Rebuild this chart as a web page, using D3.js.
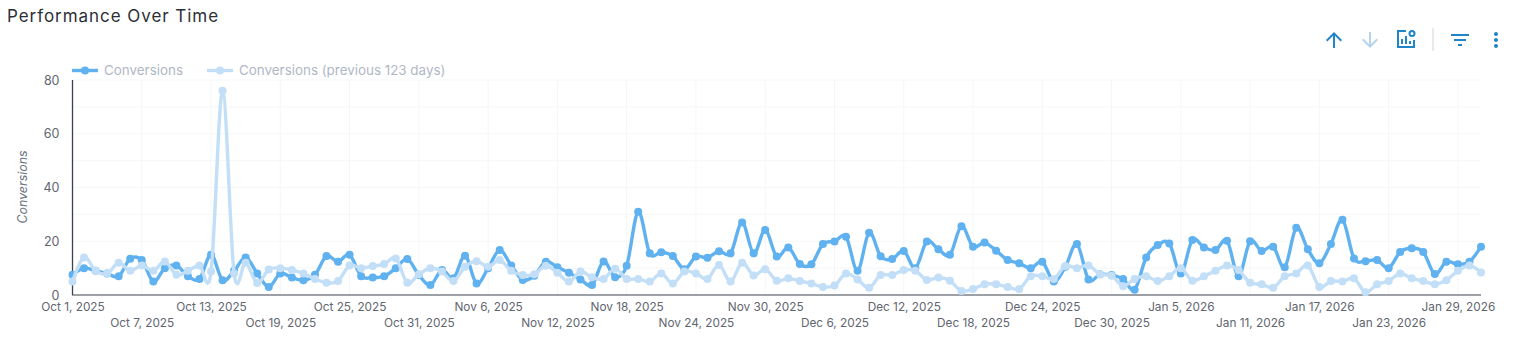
<!DOCTYPE html>
<html>
<head>
<meta charset="utf-8">
<script src="https://cdn.jsdelivr.net/npm/d3@7"></script>
<style>
  body { margin: 0; background: #fff; }
  svg { display: block; font-family: Inter, "Open Sans", sans-serif; }
  .domain { display: none; }
  .tick line { display: none; }
</style>
</head>
<body>
<div id="main"></div>
<script>
var conversions = [
  7.5, 10, 9, 8, 7, 13.5, 13, 5, 10, 11, 7, 6, 15, 5.5, 9, 14, 8, 3, 8, 6.5,
  5.5, 7.5, 14.5, 12.4, 15, 7, 6.5, 7, 10, 13.4, 7.4, 3.7, 9.3, 6.2, 14.6, 4.3, 10, 16.7, 11, 5.6,
  7.2, 12.4, 10.3, 8.3, 5.8, 3.7, 12.5, 6.6, 10.9, 31, 15.5, 15.9, 14.5, 9.6, 14.3, 13.9, 16.3, 15.5, 27, 15.5,
  24.2, 14.3, 17.7, 11.5, 11.4, 19, 19.9, 21.7, 9, 23.2, 14.4, 13.4, 16.4, 10, 19.9, 17, 15, 25.6, 18, 19.5,
  16.5, 13, 11.8, 10, 12.4, 5, 10.5, 19, 5.8, 7.7, 7.4, 6, 2, 14, 18.6, 19.2, 8, 20.5, 17.7, 16.7,
  20.2, 7, 20, 16.4, 18, 10.3, 25, 17, 11.8, 19, 28, 13.6, 12.6, 13, 10, 16, 17.4, 16, 7.8, 12.4,
  11.4, 12.4, 18
];
var previous = [
  5, 14, 9, 8, 12, 9, 11, 9, 12.5, 7.5, 9, 11, 8.7, 76, 8, 12, 4.5, 9.5, 10, 9.3,
  8, 6, 4.6, 5.2, 11, 10, 10.8, 11.5, 13.6, 4.6, 7.7, 10, 8.7, 5.2, 10.5, 12.6, 10.5, 13, 9, 7.4,
  7.7, 10.9, 8.3, 5, 8.7, 6.6, 6, 9.8, 6, 6, 5, 8, 4.3, 8.7, 8, 6, 11.2, 5, 12, 7.3,
  9.6, 5.3, 6.2, 5.2, 4.3, 3, 3.5, 8, 5.8, 2.7, 7.4, 7.4, 9.3, 9, 5.6, 6.5, 5.3, 1.5, 2.2, 4,
  4, 3, 2.2, 7, 7, 6, 10.8, 10, 11, 7.7, 7.2, 3.3, 6, 7, 5.2, 7, 10, 5.3, 7, 9,
  11, 9.3, 4.6, 4, 2.7, 7, 8, 11, 3, 5.2, 5, 6.2, 1, 4, 5.2, 8, 6.2, 5.2, 4, 5.5,
  9, 11, 8.4
];
var startDate = new Date(2025, 9, 1);
var dates = d3.range(conversions.length).map(d => d3.timeDay.offset(startDate, d));
var yTicks = [0, 20, 40, 60, 80];
var yGrid = [10, 20, 30, 40, 50, 60, 70, 80];
var seriesNames = ["Conversions", "Conversions (previous 123 days)"];

var outerWidth = 1519, outerHeight = 351;
var marginLeft = 72.5, marginRight = 38, marginTop = 80, marginBottom = 56;
var blue = "#5fb1f0", lightBlue = "#c2dff7";

var xScale = d3.scalePoint().domain(dates).range([marginLeft, outerWidth - marginRight]);
var yScale = d3.scaleLinear().domain([0, 80]).range([outerHeight - marginBottom, marginTop]);
var xTicks = dates.filter((d, i) => i % 6 == 0 && i <= 120);
var xFormat = d3.timeFormat("%b %-d, %Y");

var svg = d3.select("#main").append("svg")
    .attr("width", outerWidth)
    .attr("height", outerHeight);

svg.append("text")
    .attr("x", 7).attr("y", 22)
    .attr("font-size", 17)
    .attr("letter-spacing", 0.95)
    .attr("fill", "#2b2f36")
    .text("Performance Over Time");

// grid
svg.append("g").selectAll("line").data(yGrid).join("line")
    .attr("x1", marginLeft).attr("x2", outerWidth - marginRight)
    .attr("y1", d => yScale(d)).attr("y2", d => yScale(d))
    .attr("stroke", "#f4f6f9");
svg.append("g").selectAll("line").data(xTicks.slice(1)).join("line")
    .attr("x1", d => xScale(d)).attr("x2", d => xScale(d))
    .attr("y1", marginTop).attr("y2", yScale(0))
    .attr("stroke", "#f4f6f9");

// axes
var yAxisG = svg.append("g")
    .attr("transform", "translate(" + marginLeft + ",0)")
    .call(d3.axisLeft(yScale).tickValues(yTicks).tickSize(0).tickPadding(13));
yAxisG.selectAll("text").attr("font-size", 12.5).attr("fill", "#5f6670").attr("font-family", "Inter");

var xAxisG = svg.append("g")
    .attr("transform", "translate(0," + yScale(0) + ")")
    .call(d3.axisBottom(xScale).tickValues(xTicks).tickFormat(xFormat).tickSize(0).tickPadding(0));
xAxisG.selectAll("text")
    .attr("font-size", 11.8)
    .attr("font-family", "Inter")
    .attr("fill", "#5f6670")
    .attr("y", (d, i) => i % 2 == 0 ? 7.5 : 23.5)
    .attr("dy", "0.71em");

svg.append("line")
    .attr("x1", marginLeft - 0.5).attr("x2", outerWidth - marginRight)
    .attr("y1", yScale(0)).attr("y2", yScale(0))
    .attr("stroke", "#7d8289").attr("stroke-width", 1.5);
svg.append("line")
    .attr("x1", marginLeft).attr("x2", marginLeft)
    .attr("y1", marginTop).attr("y2", yScale(0))
    .attr("stroke", "#39424e").attr("stroke-width", 1.3);

svg.append("text")
    .attr("transform", "translate(27," + 187 + ") rotate(-90)")
    .attr("text-anchor", "middle")
    .attr("font-size", 12.4)
    .attr("font-style", "italic")
    .attr("fill", "#6b7280")
    .text("Conversions");

// series
var line = d3.line()
    .x((d, i) => xScale(dates[i]))
    .y(d => yScale(d))
    .curve(d3.curveCatmullRom.alpha(0));

function drawSeries(values, color) {
    var g = svg.append("g");
    g.append("path")
        .attr("d", line(values))
        .attr("fill", "none")
        .attr("stroke", color)
        .attr("stroke-width", 3.4);
    g.selectAll("circle").data(values).join("circle")
        .attr("cx", (d, i) => xScale(dates[i]))
        .attr("cy", d => yScale(d))
        .attr("r", 4)
        .attr("fill", color);
}
drawSeries(conversions, blue);
drawSeries(previous, lightBlue);

// legend
var legendX = [72, 207], legendColors = [blue, lightBlue];
var legend = svg.append("g").selectAll("g").data(seriesNames).join("g")
    .attr("transform", (d, i) => "translate(" + legendX[i] + ",70.5)");
legend.append("line")
    .attr("x2", 26)
    .attr("stroke", (d, i) => legendColors[i])
    .attr("stroke-width", 3.4);
legend.append("circle")
    .attr("cx", 13).attr("r", 4)
    .attr("fill", (d, i) => legendColors[i]);
legend.append("text")
    .attr("x", 32).attr("dy", "0.35em")
    .attr("font-size", 13.4)
    .attr("fill", "#b0b7c6")
    .text(d => d);

// toolbar icons
var iconBlue = "#1f84c8";
function icon(path, x, color) {
    svg.append("path")
        .attr("transform", "translate(" + x + ",28)")
        .attr("d", path)
        .attr("fill", color);
}
icon("M4 12l1.41 1.41L11 7.83V20h2V7.83l5.58 5.59L20 12l-8-8-8 8z", 1322, iconBlue);
icon("M20 12l-1.41-1.41L13 16.17V4h-2v12.17l-5.58-5.59L4 12l8 8 8-8z", 1358, "#b5d3ea");
icon("M10 18h4v-2h-4v2zM3 6v2h18V6H3zm3 7h12v-2H6v2z", 1448, iconBlue);
icon("M12 8c1.1 0 2-.9 2-2s-.9-2-2-2-2 .9-2 2 .9 2 2 2zm0 2c-1.1 0-2 .9-2 2s.9 2 2 2 2-.9 2-2-.9-2-2-2zm0 6c-1.1 0-2 .9-2 2s.9 2 2 2 2-.9 2-2-.9-2-2-2z", 1484, iconBlue);

var chartIcon = svg.append("g").attr("transform", "translate(1397,30)");
chartIcon.append("path")
    .attr("d", "M9 1H1v16h16V10")
    .attr("fill", "none").attr("stroke", iconBlue).attr("stroke-width", 2);
chartIcon.append("path")
    .attr("d", "M5 9v5M9 6v8M13 11v3")
    .attr("fill", "none").attr("stroke", iconBlue).attr("stroke-width", 2);
chartIcon.append("circle")
    .attr("cx", 15).attr("cy", 3.5).attr("r", 2.5)
    .attr("fill", "none").attr("stroke", iconBlue).attr("stroke-width", 2);

svg.append("line")
    .attr("x1", 1433).attr("x2", 1433)
    .attr("y1", 28).attr("y2", 51)
    .attr("stroke", "#d5dde3").attr("stroke-width", 1.2);
</script>
</body>
</html>
